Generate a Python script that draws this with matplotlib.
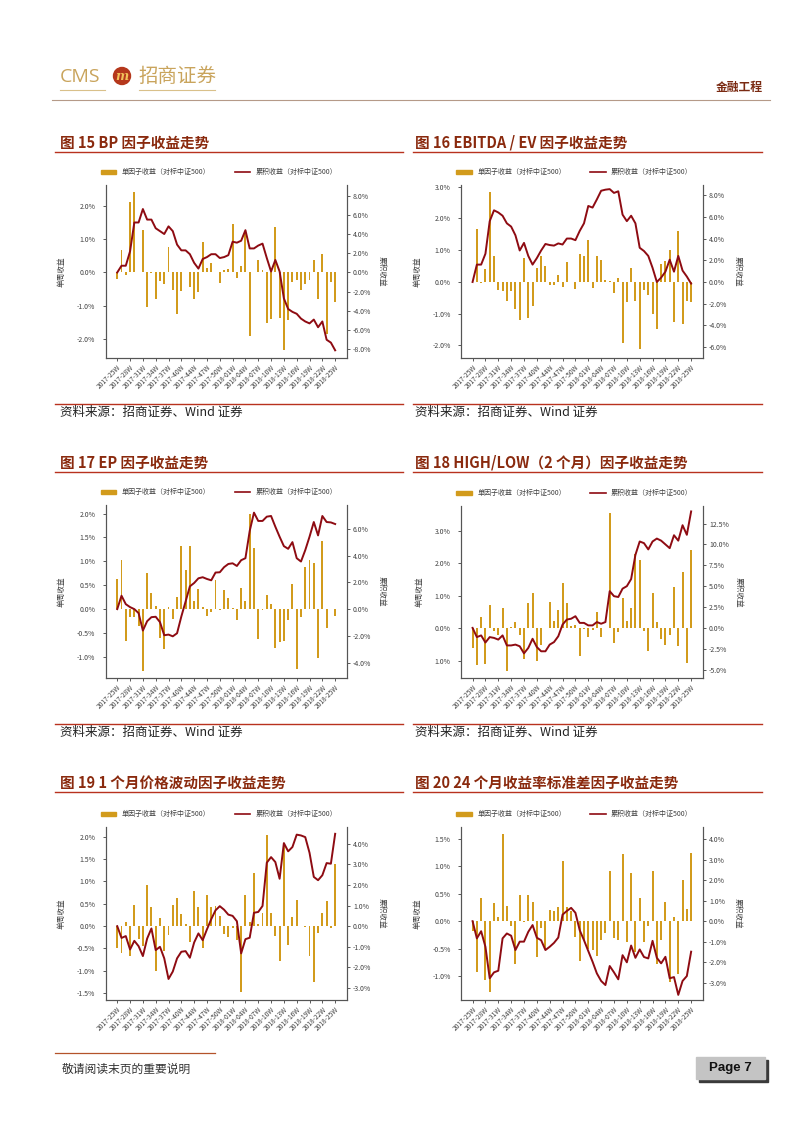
"""Factor return panels (page 7): weekly factor return bars + cumulative return line."""

import numpy as np
import matplotlib
matplotlib.use("Agg")
import matplotlib.pyplot as plt
from matplotlib.patches import Circle, Rectangle, Patch
from matplotlib.lines import Line2D

plt.rcParams["font.family"] = ["Noto Sans CJK SC", "DejaVu Sans"]
plt.rcParams["axes.unicode_minus"] = False

# --------------------------------------------------------------------------- #
# data (weekly, 2017-25W .. 2018-25W, 52 points)
# --------------------------------------------------------------------------- #
TICK_LABELS = ["2017-25W", "2017-28W", "2017-31W", "2017-34W", "2017-37W", "2017-40W",
               "2017-44W", "2017-47W", "2017-50W", "2018-01W", "2018-04W", "2018-07W",
               "2018-10W", "2018-13W", "2018-16W", "2018-19W", "2018-22W", "2018-25W"]

bp_bar = [-0.20, 0.68, -0.08, 2.11, 2.41, 0.02, 1.27, -1.05, -0.02, -0.80, -0.27, -0.35, 0.78,
          -0.52, -1.25, -0.55, 0.00, -0.43, -0.80, -0.58, 0.93, 0.15, 0.30, 0.00, -0.32, 0.08,
          0.12, 1.47, -0.18, 0.20, 1.25, -1.92, 0.00, 0.38, 0.08, -1.53, -1.40, 1.37, -1.37,
          -2.33, -1.42, -0.28, -0.22, -0.52, -0.35, -0.22, 0.37, -0.80, 0.57, -1.85, -0.28, -0.90]
bp_cum = [0.0, 0.7, 0.7, 2.2, 5.2, 5.2, 6.6, 5.5, 5.5, 4.6, 4.3, 4.0, 4.8, 4.3, 2.9, 2.3, 2.3,
          1.9, 1.0, 0.4, 1.4, 1.6, 1.9, 1.9, 1.5, 1.6, 1.8, 3.2, 3.1, 3.3, 4.4, 2.5, 2.5, 2.8,
          3.0, 1.5, 0.1, 1.3, 0.1, -2.7, -3.8, -4.1, -4.3, -4.8, -5.1, -5.3, -4.9, -5.7, -5.1,
          -7.0, -7.3, -8.1]

ev_bar = [0.00, 1.65, -0.05, 0.40, 2.82, 0.80, -0.25, -0.30, -0.60, -0.30, -0.85, -1.20, 0.75,
          -1.15, -0.75, 0.45, 0.80, 0.50, -0.10, -0.10, 0.20, -0.15, 0.62, 0.00, -0.22, 0.87,
          0.82, 1.32, -0.18, 0.82, 0.68, 0.05, 0.03, -0.35, 0.13, -1.93, -0.63, 0.45, -0.60,
          -2.13, -0.25, -0.40, -1.02, -1.50, 0.55, 0.67, 1.00, -1.27, 1.60, -1.33, -0.60, -0.63]
ev_cum = [0.0, 1.6, 1.6, 2.6, 5.6, 6.6, 6.4, 6.1, 5.4, 5.1, 4.3, 2.9, 3.6, 2.4, 1.6, 2.2, 2.9,
          3.5, 3.4, 3.35, 3.55, 3.45, 4.0, 4.0, 3.85, 4.7, 5.4, 7.0, 6.85, 7.6, 8.4, 8.5, 8.55,
          8.2, 8.35, 6.2, 5.6, 6.1, 5.4, 3.15, 2.85, 2.4, 1.3, 0.0, 0.4, 0.95, 2.05, 0.95, 2.4,
          1.05, 0.5, -0.15]

ep_bar = [0.63, 1.02, -0.67, -0.17, -0.17, -0.35, -1.30, 0.75, 0.34, 0.07, -0.60, -0.83, 0.05,
          -0.20, 0.25, 1.32, 0.83, 1.33, 0.17, 0.43, 0.04, -0.15, -0.05, 0.62, -0.02, 0.40,
          0.23, 0.02, -0.22, 0.45, 0.17, 2.00, 1.28, -0.63, -0.02, 0.30, 0.10, -0.82, -0.68,
          -0.67, -0.22, 0.52, -1.25, -0.17, 0.88, 1.02, 0.96, -1.03, 1.42, -0.40, 0.00, -0.15]
ep_cum = [0.0, 1.0, 0.37, 0.15, 0.0, -0.3, -1.6, -0.9, -0.6, -0.57, -0.97, -1.95, -1.9, -2.03,
          -1.8, -0.55, 0.57, 1.7, 1.95, 2.3, 2.38, 2.25, 2.15, 2.73, 2.75, 3.13, 3.37, 3.42,
          3.22, 3.65, 3.8, 5.83, 7.2, 6.58, 6.58, 6.9, 6.95, 6.15, 5.4, 4.7, 4.5, 5.0, 3.8,
          3.55, 4.4, 5.4, 6.5, 5.5, 6.95, 6.5, 6.47, 6.35]

hl_bar = [-0.60, -1.15, 0.33, -1.10, 0.70, -0.08, -0.22, 0.62, -1.33, 0.04, 0.18, -0.22, -0.95,
          0.77, 1.08, -1.00, -0.52, 0.00, 0.82, 0.22, 0.55, 1.38, 0.78, 0.05, 0.10, -0.85,
          -0.03, -0.28, -0.05, 0.50, -0.27, 0.00, 3.55, -0.47, -0.12, 0.93, 0.22, 0.63, 2.28,
          2.10, -0.10, -0.72, 1.07, 0.18, -0.35, -0.52, -0.22, 1.28, -0.55, 1.72, -1.08, 2.42]
hl_cum = [0.0, -1.1, -0.9, -1.75, -1.1, -1.2, -1.4, -0.9, -2.1, -2.1, -2.0, -2.2, -3.05, -2.4,
          -1.3, -2.3, -2.8, -2.8, -2.0, -1.7, -1.0, 0.4, 1.0, 1.1, 1.4, 0.6, 0.6, 0.3, 0.3, 0.7,
          0.5, 0.7, 4.4, 3.8, 3.7, 4.7, 5.0, 5.85, 8.75, 10.35, 10.15, 9.4, 10.35, 10.7, 10.45,
          10.0, 9.55, 11.1, 10.45, 12.3, 11.15, 13.95]

vol_bar = [-0.50, -0.60, 0.10, -0.68, 0.46, -0.30, -0.45, 0.93, 0.42, -1.02, 0.19, -0.55, -0.20,
           0.48, 0.63, 0.27, 0.04, -0.37, 0.78, 0.43, -0.50, 0.70, 0.43, 0.45, 0.22, -0.18,
           -0.25, -0.05, -0.32, -1.47, 0.70, 0.08, 1.18, 0.04, 0.30, 2.03, 0.30, -0.23, -0.78,
           1.85, -0.42, 0.20, 0.58, -0.01, -0.03, -0.67, -1.25, -0.15, 0.28, 0.57, -0.05, 1.40]
vol_cum = [0.0, -0.57, -0.48, -1.13, -0.71, -0.97, -1.45, -0.6, -0.11, -1.16, -1.0, -1.56,
           -2.56, -2.2, -1.56, -1.24, -1.21, -1.53, -0.79, -0.35, -0.68, -0.15, 0.34, 0.77,
           0.97, 0.8, 0.56, 0.5, 0.24, -1.32, -0.63, -0.56, 0.65, 0.69, 0.98, 3.08, 3.35, 3.11,
           2.3, 4.03, 3.63, 3.84, 4.44, 4.4, 4.32, 3.56, 2.39, 2.23, 2.47, 3.06, 3.03, 4.48]

std_bar = [-0.17, -0.92, 0.42, -1.07, -1.28, 0.33, 0.07, 1.58, 0.27, -0.08, -0.78, 0.48, -0.02,
           0.48, 0.35, -0.65, -0.13, -0.50, 0.20, 0.19, 0.25, 1.10, 0.25, 0.18, -0.28, -0.73,
           -0.35, -0.50, -0.53, -0.63, -0.35, -0.22, 0.92, -0.30, -0.35, 1.22, -0.37, 0.87,
           -0.55, 0.43, -0.38, -0.08, 0.92, -0.78, -0.35, 0.35, -1.10, 0.07, -0.95, 0.75, 0.22,
           1.23]
std_cum = [0.0, -0.84, -0.49, -1.25, -2.79, -2.5, -2.42, -0.84, -0.6, -0.71, -1.41, -1.0, -1.0,
           -0.52, -0.19, -0.81, -0.93, -1.41, -1.25, -1.06, -0.8, 0.32, 0.5, 0.65, 0.41, -0.44,
           -0.93, -1.46, -1.98, -2.55, -2.92, -3.12, -2.19, -2.5, -2.84, -1.66, -2.01, -1.19,
           -1.79, -1.38, -1.75, -1.82, -0.96, -1.79, -2.06, -1.74, -2.79, -2.73, -3.6, -2.92,
           -2.68, -1.49]

# --------------------------------------------------------------------------- #
# style
# --------------------------------------------------------------------------- #
W, H = 802, 1133
BAR_C = "#D29B1C"
LINE_C = "#8E0B12"
TITLE_C = "#8A2A0E"
RULE_C = "#B8321E"
SPINE_C = "#555555"
TXT_C = "#404040"


def frac(l, t, r, b):
    return [l / W, 1 - b / H, (r - l) / W, (b - t) / H]


def pct(vals, fmt="{:.1f}%"):
    return [fmt.format(v) for v in vals]


def panel(fig, box, bars, cum, lylim, rylim, lticks, rticks, llabels=None, rfmt="{:.1f}%"):
    ax = fig.add_axes(frac(*box))
    ax.set_facecolor("none")
    x = np.arange(len(bars))
    ax.bar(x, bars, width=0.45, color=BAR_C, zorder=2)
    ax.set_xlim(-2.7, len(bars) + 1.7)
    ax.set_ylim(*lylim)
    ax.set_yticks(lticks)
    ax.set_yticklabels(llabels if llabels else pct(lticks))
    ax.set_xticks(np.arange(0, len(bars), 3))
    ax.set_xticklabels(TICK_LABELS, rotation=45, ha="right", rotation_mode="anchor")
    ax.tick_params(axis="x", labelsize=4.8, colors=TXT_C, length=2.5, width=0.6, pad=1.5)
    ax.tick_params(axis="y", labelsize=5, colors=TXT_C, length=2.5, width=0.6, pad=5)
    ax.set_ylabel("单周收益", fontsize=5.5, color=TXT_C, labelpad=8)

    ax2 = ax.twinx()
    ax2.plot(x, cum, color=LINE_C, lw=1.4, zorder=3)
    ax2.set_ylim(*rylim)
    ax2.set_yticks(rticks)
    ax2.set_yticklabels(pct(rticks, rfmt))
    ax2.tick_params(axis="y", labelsize=5, colors=TXT_C, length=2.5, width=0.6, pad=2)
    ax2.set_ylabel("累积收益", fontsize=5.5, color=TXT_C, rotation=270, labelpad=10)

    for a in (ax, ax2):
        a.spines["top"].set_visible(False)
        for s in ("left", "right", "bottom"):
            a.spines[s].set_color(SPINE_C)
            a.spines[s].set_linewidth(0.8)

    handles = [Patch(color=BAR_C), Line2D([], [], color=LINE_C, lw=1.2)]
    ax.legend(handles, ["单因子收益（对标中证500）", "累积收益（对标中证500）"], ncol=2,
              loc="center", bbox_to_anchor=(0.47, 1.075), frameon=False, fontsize=5,
              handlelength=2.2, handleheight=0.5, columnspacing=3.5, labelcolor=TXT_C)
    return ax


fig = plt.figure(figsize=(W / 100, H / 100), dpi=100)

# page decoration layer, pixel coordinates
deco = fig.add_axes([0, 0, 1, 1])
deco.set_xlim(0, W)
deco.set_ylim(H, 0)
deco.axis("off")

# header
deco.text(60, 77, "CMS", fontsize=14, color="#C9A45C", family="Open Sans", va="center")
deco.add_patch(Circle((122, 76), 8.5, color="#B5381C"))
deco.text(122, 76.5, "m", fontsize=9, color="#F2C25A", ha="center", va="center",
          fontweight="bold", family="DejaVu Serif", style="italic")
deco.text(138, 77, "招商证券", fontsize=14, color="#C9A45C", va="center")
deco.plot([60, 105], [90, 90], color="#D9C08A", lw=0.8)
deco.plot([139, 215], [90, 90], color="#D9C08A", lw=0.8)
deco.text(716, 88, "金融工程", fontsize=8.5, color="#7A2A12", va="center", fontweight="bold")
deco.plot([52, 770], [100, 100], color="#B59A88", lw=0.8)

# section titles, rules and sources
titles = [
    (60, 143, "图 15 BP 因子收益走势"),
    (415, 143, "图 16 EBITDA / EV 因子收益走势"),
    (60, 463, "图 17 EP 因子收益走势"),
    (415, 463, "图 18 HIGH/LOW（2 个月）因子收益走势"),
    (60, 783, "图 19 1 个月价格波动因子收益走势"),
    (415, 783, "图 20 24 个月收益率标准差因子收益走势"),
]
for tx, ty, t in titles:
    deco.text(tx, ty, t, fontsize=10.5, color=TITLE_C, fontweight="bold", va="center")
for y in (152, 472, 792):
    deco.plot([55, 403], [y, y], color=RULE_C, lw=1.0)
    deco.plot([413, 762], [y, y], color=RULE_C, lw=1.0)
for y in (404, 724):
    deco.plot([55, 403], [y, y], color=RULE_C, lw=1.0)
    deco.plot([413, 762], [y, y], color=RULE_C, lw=1.0)
    deco.text(60, y + 8.5, "资料来源：招商证券、Wind 证券", fontsize=9, color="#222222", va="center")
    deco.text(415, y + 8.5, "资料来源：招商证券、Wind 证券", fontsize=9, color="#222222", va="center")

# footer
deco.plot([55, 215], [1053, 1053], color="#B4532A", lw=0.9)
deco.text(62, 1069, "敬请阅读末页的重要说明", fontsize=8.5, color="#333333", va="center")
deco.add_patch(Rectangle((699, 1060), 69, 22, color="#3A3A3A"))
deco.add_patch(Rectangle((696, 1057), 69, 22, color="#C4C4C4"))
deco.text(730, 1068.5, "Page 7", fontsize=9.5, color="#111111", ha="center", va="center",
          fontweight="bold", family="Liberation Sans")

# panels
L1, R1, L2, R2 = 105.7, 346.7, 461.0, 702.7
panel(fig, (L1, 185, R1, 358), bp_bar, bp_cum, (-2.57, 2.63), (-8.9, 9.1),
      [-2, -1, 0, 1, 2], [-8, -6, -4, -2, 0, 2, 4, 6, 8])
panel(fig, (L2, 185, R2, 358), ev_bar, ev_cum, (-2.40, 3.05), (-7.0, 8.93),
      [-2, -1, 0, 1, 2, 3], [-6, -4, -2, 0, 2, 4, 6, 8])
panel(fig, (L1, 505, R1, 678), ep_bar, ep_cum, (-1.44, 2.18), (-5.14, 7.77),
      [-1.0, -0.5, 0.0, 0.5, 1.0, 1.5, 2.0], [-4, -2, 0, 2, 4, 6])
panel(fig, (L2, 506, R2, 678), hl_bar, hl_cum, (-1.54, 3.77), (-6.0, 14.6),
      [-1, 0, 1, 2, 3], [-5, -2.5, 0, 2.5, 5, 7.5, 10, 12.5],
      llabels=["1.0%", "0.0%", "1.0%", "2.0%", "3.0%"])
panel(fig, (L1, 827, R1, 1000), vol_bar, vol_cum, (-1.66, 2.22), (-3.58, 4.81),
      [-1.5, -1.0, -0.5, 0.0, 0.5, 1.0, 1.5, 2.0], [-3, -2, -1, 0, 1, 2, 3, 4])
panel(fig, (L2, 827, R2, 1000), std_bar, std_cum, (-1.43, 1.71), (-3.85, 4.6),
      [-1.0, -0.5, 0.0, 0.5, 1.0, 1.5], [-3, -2, -1, 0, 1, 2, 3, 4])

fig.savefig("out.png", dpi=100)
